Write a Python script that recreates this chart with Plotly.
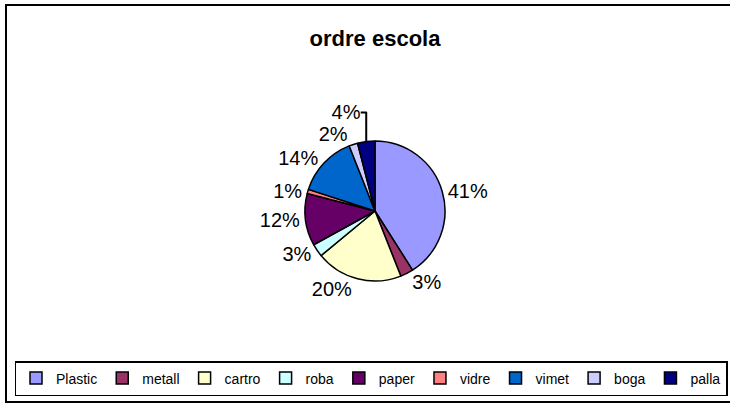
import plotly.graph_objects as go

categories = ["Plastic", "metall", "cartro", "roba", "paper", "vidre", "vimet", "boga", "palla"]
values = [41, 3, 20, 3, 12, 1, 14, 2, 4]
colors = ["#9999FF", "#993366", "#FFFFCC", "#CCFFFF", "#660066", "#FF8080", "#0066CC", "#CCCCFF", "#000080"]

W, H = 730, 403
FONT = "Liberation Sans, Arial, sans-serif"

fig = go.Figure(go.Pie(
    labels=categories, values=values, sort=False, direction="clockwise", rotation=0,
    marker=dict(colors=colors, line=dict(color="black", width=1.5)),
    textposition="outside", texttemplate="%{percent:.0%}",
    textfont=dict(family=FONT, size=20, color="black"),
    domain=dict(x=[305 / W, 445 / W], y=[1 - 281 / H, 1 - 141 / H]),
    hoverinfo="label+percent",
))

fig.update_layout(
    width=W, height=H,
    margin=dict(l=0, r=0, t=0, b=0),
    paper_bgcolor="white",
    font=dict(family=FONT, color="black"),
    title=dict(text="<b>ordre escola</b>", x=375 / W, xanchor="center", y=1 - 38 / H, yanchor="middle",
               font=dict(size=22, family=FONT, color="black")),
    showlegend=True,
    legend=dict(orientation="h", x=371 / W, xanchor="center", y=1 - 396 / H, yanchor="bottom",
                bordercolor="black", borderwidth=1.5, font=dict(size=14, family=FONT),
                traceorder="normal", itemwidth=30, bgcolor="white"),
    shapes=[dict(type="rect", xref="paper", yref="paper", x0=6 / W, x1=1.02, y0=1 - 402 / H, y1=1 - 5 / H,
                 line=dict(color="black", width=2), layer="below")],
)

fig.write_html("out.html", config={"displayModeBar": False},
               post_script="document.body.style.margin='0';document.body.style.overflow='hidden';")
